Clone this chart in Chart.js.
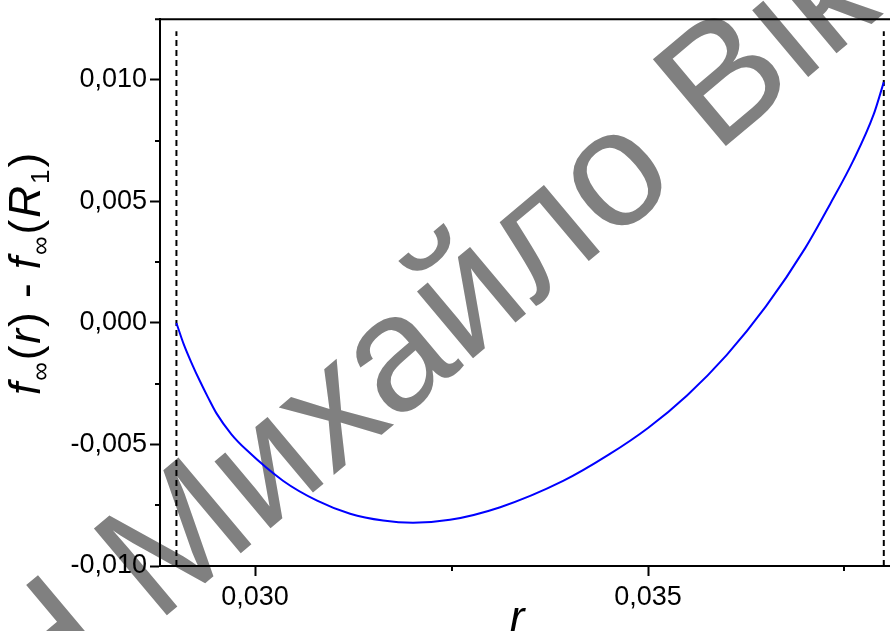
<!DOCTYPE html>
<html>
<head>
<meta charset="utf-8">
<script src="https://cdn.jsdelivr.net/npm/chart.js@4.4.1/dist/chart.umd.min.js"></script>
<style>
  html, body { margin: 0; padding: 0; background: #fff; }
  #wrap { width: 890px; height: 631px; position: relative; }
</style>
</head>
<body>
<div id="wrap"><canvas id="chart"></canvas></div>
<script>

// curve f(r) - f(R1)
var curveR = [0.0290, 0.02909, 0.0292, 0.0293, 0.0294, 0.02951, 0.0297, 0.02989, 0.03036, 0.03079, 0.03121, 0.03163, 0.03201, 0.03248,
              0.03312, 0.03392, 0.0345, 0.0350, 0.0355, 0.0360, 0.0365, 0.0370, 0.03732, 0.03761, 0.03787, 0.0380];
var curveV = [0.0000, -0.00085, -0.00170, -0.00240, -0.00305, -0.00372, -0.00458, -0.00522, -0.00650, -0.00731, -0.00785, -0.00813, -0.00822, -0.00810,
              -0.00758, -0.00650, -0.00542, -0.00432, -0.00297, -0.00132, 0.00068, 0.00308, 0.00491, 0.00667, 0.00857, 0.00991];

// dashed boundaries R1, R2
var boundaryR = [0.029, 0.038];
var boundaryY = [-0.010, 0.012];

var xTicks = [0.030, 0.035];
var xMinor = [0.0325, 0.0375];
var yTicks = [-0.010, -0.005, 0.000, 0.005, 0.010];
var yMinor = [-0.0075, -0.0025, 0.0025, 0.0075];

var FONT = "'Liberation Sans', Arial, sans-serif";

function fmt(v){
	var r = Math.round(v * 1000) / 1000;
	if (Math.abs(r) < 1e-9) r = 0;
	return r.toFixed(3).replace('.', ',');
}

function points(xs, ys){
	var out = [];
	for (var i = 0; i < xs.length; i++) out.push({x: xs[i], y: ys[i]});
	return out;
}

function vline(x){
	return {
		data: points([x, x], boundaryY),
		showLine: true,
		borderColor: '#000',
		borderWidth: 2,
		borderDash: [6, 4],
		pointRadius: 0
	};
}

var watermark = {
	id: 'watermark',
	beforeDraw: function(chart){
		var ctx = chart.ctx;
		ctx.save();
		ctx.translate(30, 730);
		ctx.rotate(-40 * Math.PI / 180);
		ctx.fillStyle = '#808080';
		ctx.font = '165px ' + FONT;
		ctx.textBaseline = 'alphabetic';
		ctx.fillText('Н Михайло Вікт', 0, 0);
		ctx.restore();
	}
};

var extras = {
	id: 'extras',
	afterDraw: function(chart){
		var ctx = chart.ctx;
		var xs = chart.scales.x, ys = chart.scales.y;
		var area = chart.chartArea;
		ctx.save();
		ctx.strokeStyle = '#000';
		ctx.lineWidth = 2;

		// top frame line
		ctx.beginPath();
		ctx.moveTo(area.left - 5, area.top);
		ctx.lineTo(chart.width, area.top);
		ctx.stroke();

		// minor ticks
		ctx.beginPath();
		xMinor.forEach(function(v){
			var px = Math.round(xs.getPixelForValue(v));
			ctx.moveTo(px, area.bottom);
			ctx.lineTo(px, area.bottom + 5);
		});
		yMinor.forEach(function(v){
			var py = Math.round(ys.getPixelForValue(v));
			ctx.moveTo(area.left, py);
			ctx.lineTo(area.left - 5, py);
		});
		ctx.stroke();

		// axis titles
		ctx.fillStyle = '#000';
		ctx.textBaseline = 'alphabetic';
		var big = 44, small = 26;
		var parts = [
			['f', 'italic', big, 0], ['\u221E', '', small, 9], ['(', '', big, 0], ['r', 'italic', big, 0], [')', '', big, 0],
			[' - ', '', big, 0],
			['f', 'italic', big, 0], ['\u221E', '', small, 9], ['(', '', big, 0], ['R', 'italic', big, 0], ['1', '', small, 9], [')', '', big, 0]
		];
		var total = 0;
		parts.forEach(function(p){
			ctx.font = p[1] + ' ' + p[2] + 'px ' + FONT;
			p.push(ctx.measureText(p[0]).width + 2);
			total += p[4];
		});
		ctx.save();
		ctx.translate(40, 273);
		ctx.rotate(-Math.PI / 2);
		var cx = -total / 2;
		parts.forEach(function(p){
			ctx.font = p[1] + ' ' + p[2] + 'px ' + FONT;
			ctx.fillText(p[0], cx, p[3]);
			cx += p[4];
		});
		ctx.restore();

		ctx.font = 'italic ' + big + 'px ' + FONT;
		ctx.textAlign = 'center';
		ctx.fillText('r', 517, 632);
		ctx.restore();
	}
};

var ctx = document.getElementById('chart').getContext('2d');

var chart = new Chart(ctx, {
	type: 'scatter',
	data: {
		datasets: [
			{
				data: points(curveR, curveV),
				showLine: true,
				borderColor: '#0000ff',
				borderWidth: 2,
				pointRadius: 0,
				cubicInterpolationMode: 'monotone'
			},
			vline(boundaryR[0]),
			vline(boundaryR[1])
		]
	},
	options: {
		responsive: true,
		maintainAspectRatio: false,
		animation: false,
		layout: { padding: { top: 14, right: 0, left: 0, bottom: 0 } },
		plugins: {
			legend: { display: false },
			tooltip: { enabled: false }
		},
		scales: {
			x: {
				type: 'linear',
				min: 0.028791,
				max: 0.038079,
				afterFit: function(s){ s.height = 65; },
				afterBuildTicks: function(s){ s.ticks = xTicks.map(function(v){ return {value: v}; }); },
				ticks: {
					color: '#000',
					font: { family: FONT, size: 27 },
					padding: 5,
					maxRotation: 0,
					callback: function(v){ return fmt(v); }
				},
				grid: {
					drawOnChartArea: false,
					drawTicks: true,
					tickLength: 10,
					tickColor: '#000',
					tickWidth: 2
				},
				border: { color: '#000', width: 2 }
			},
			y: {
				type: 'linear',
				min: -0.010,
				max: 0.0125,
				afterFit: function(s){ s.width = 160; },
				afterBuildTicks: function(s){ s.ticks = yTicks.map(function(v){ return {value: v}; }); },
				ticks: {
					color: '#000',
					font: { family: FONT, size: 27 },
					padding: 3,
					callback: function(v){ return fmt(v); }
				},
				grid: {
					drawOnChartArea: false,
					drawTicks: true,
					tickLength: 10,
					tickColor: '#000',
					tickWidth: 2
				},
				border: { color: '#000', width: 2 }
			}
		}
	},
	plugins: [watermark, extras]
});
</script>
</body>
</html>
